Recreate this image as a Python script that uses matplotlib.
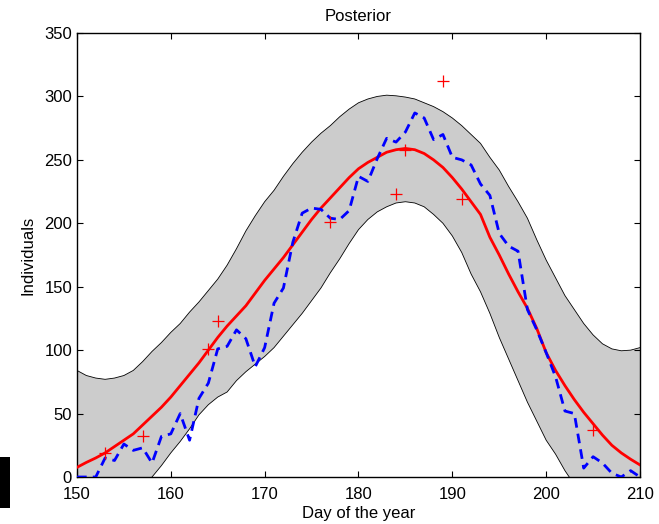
import numpy as np
import matplotlib
matplotlib.use("Agg")
import matplotlib.pyplot as plt
from matplotlib.patches import Rectangle

plt.rcParams['font.family'] = ['Liberation Sans', 'DejaVu Sans']

days = list(range(150, 211))

upper = [84, 80, 78, 77, 78, 80, 84, 91, 99, 106,
         114, 121, 130, 138, 147, 156, 167, 180, 194, 206,
         217, 226, 237, 247, 256, 264, 271, 277, 284, 290,
         295, 298, 300, 301, 300.5, 299.5, 298, 295, 292, 288,
         283, 277, 270, 263, 252, 242, 229, 217, 204, 187,
         171, 157, 143, 132, 121, 112, 105, 101, 99.5, 100, 102]

lower = [-60, -52, -44, -37, -29, -22, -14, -7, 0, 9,
         19, 28, 38, 49, 57, 63, 67, 76, 83, 89,
         95, 102, 111, 120, 129, 139, 149, 161, 172, 184,
         195, 203, 209, 213, 216, 217, 216, 213, 207, 200,
         190, 177, 160, 146, 129, 110, 93, 76, 59, 44,
         29, 18, 5, -6, -18, -30, -42, -53, -65, -76, -87]

mean = [7.6, 11.5, 15, 19, 24, 29, 34, 41, 48, 55,
        63, 72, 81, 90, 100, 110, 119, 127, 135, 145,
        155, 164, 173, 183, 193, 203, 212, 220, 228, 236,
        243, 248, 252, 256, 258, 259, 258, 255, 250, 244,
        236, 227, 217, 207, 189, 175, 160, 146, 133, 117,
        98, 84, 72, 61, 51, 42, 33, 25, 19, 14, 9.5]

sim = [0, 0, 0, 15, 13, 26, 21, 23, 11, 32,
       34, 50, 29, 62, 74, 101, 103, 116, 109, 87,
       102, 137, 149, 185, 208, 212, 211, 204, 203, 210,
       237, 233, 251, 267, 264, 272, 287, 283, 266, 270,
       252, 250, 246, 231, 222, 192, 182, 178, 132, 116,
       98, 79, 52, 50, 7, 16, 11, 3, 0, 5, 0]

obs_days = [153, 157, 164, 165, 177, 184, 185, 189, 191, 205]
obs_vals = [19, 32, 101, 123, 201, 223, 258, 312, 219, 37]

fig = plt.figure(figsize=(6.59, 5.24), dpi=100)
ax = fig.add_axes([0.1168, 0.0897, 0.9712 - 0.1168, 0.937 - 0.0897])

ax.fill_between(days, lower, upper, facecolor='#cccccc', edgecolor='none', zorder=1)
ax.plot(days, upper, color='black', lw=0.6, zorder=2)
ax.plot(days, lower, color='black', lw=0.6, zorder=2)
ax.plot(days, mean, color='#ff0000', lw=2.0, zorder=3)
ax.plot(days, sim, color='#0000ff', lw=2.0, ls=(0, (3.5, 2.2)), zorder=4)
ax.plot(obs_days, obs_vals, ls='none', marker='+', color='#ff0000',
        markersize=8.5, markeredgewidth=0.9, zorder=5)

ax.set_xlim(150, 210)
ax.set_ylim(0, 350)
ax.set_xticks(range(150, 211, 10))
ax.set_yticks(range(0, 351, 50))
ax.tick_params(direction='in', top=True, right=True, length=4, width=0.8,
               labelsize=12)
ax.tick_params(axis='x', pad=7)
ax.tick_params(axis='y', pad=3.5)
for s in ax.spines.values():
    s.set_linewidth(1.0)

ax.set_title('Posterior', fontsize=12, pad=9)
ax.set_xlabel('Day of the year', fontsize=12, labelpad=3)
ax.set_ylabel('Individuals', fontsize=12, labelpad=6)

fig.patches.append(Rectangle((0, 1 - 508 / 524), 10 / 659, 51 / 524,
                             transform=fig.transFigure, facecolor='black',
                             edgecolor='none'))

fig.savefig('out.png', dpi=100)
